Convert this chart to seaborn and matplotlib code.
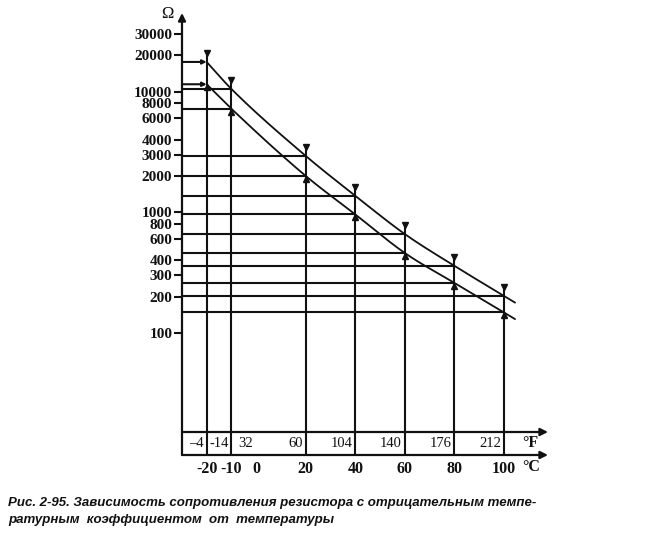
import numpy as np
import pandas as pd
import matplotlib
matplotlib.use("Agg")
import matplotlib.pyplot as plt
import matplotlib.transforms as mtransforms
from matplotlib.ticker import FixedLocator, NullLocator
import seaborn as sns

# Resistance of an NTC resistor vs temperature: upper and lower tolerance bounds
temps_c = [-20, -10, 20, 40, 60, 80, 100]
r_upper = [17600, 10500, 2930, 1370, 660, 360, 203]
r_lower = [11500, 7200, 2000, 960, 460, 260, 148]

# Axis labelling
ohm_ticks = [100, 200, 300, 400, 600, 800, 1000, 2000, 3000, 4000,
             6000, 8000, 10000, 20000, 30000]
c_ticks = [-20, -10, 0, 20, 40, 60, 80, 100]
f_labels = ["\u20134", "-14", "32", "60", "104", "140", "176", "212"]

caption_1 = "Рис. 2-95. Зависимость сопротивления резистора с отрицательным темпе-"
caption_2 = "ратурным  коэффициентом  от  температуры"

sns.set_theme(style="white")
plt.rcParams["font.family"] = ["Liberation Serif", "DejaVu Serif"]

INK = "#111111"
W, H = 670, 538
fig = plt.figure(figsize=(W / 100, H / 100), dpi=100)
fig.patch.set_facecolor("white")

# axes box in pixels: left, top, right, bottom
L, T, R, B = 182, 13, 548, 455
ax = fig.add_axes([L / W, 1 - B / H, (R - L) / W, (B - T) / H])
ax.set_facecolor("white")
ax.set_yscale("log")
xlim = (-29.96, 117.8)
ylim = (9.755, 44770.0)
ax.set_xlim(*xlim)
ax.set_ylim(*ylim)
px_per_dec = (B - T) / (np.log10(ylim[1]) - np.log10(ylim[0]))

for s in ax.spines.values():
    s.set_visible(False)


def monotone_curve(xs, ys, x_end, n=30):
    """Smooth Hermite curve through the points (log-resistance), with a short straight run past the last one."""
    xs = np.asarray(xs, float)
    ys = np.log10(np.asarray(ys, float))
    m = np.diff(ys) / np.diff(xs)
    d = np.empty_like(ys)
    d[0], d[-1] = m[0], m[-1]
    d[1:-1] = (m[:-1] + m[1:]) / 2
    out_x, out_y = [], []
    for i in range(len(xs) - 1):
        h = xs[i + 1] - xs[i]
        t = np.linspace(0, 1, n, endpoint=False)
        h00 = 2 * t**3 - 3 * t**2 + 1
        h10 = t**3 - 2 * t**2 + t
        h01 = -2 * t**3 + 3 * t**2
        h11 = t**3 - t**2
        out_x.extend(xs[i] + t * h)
        out_y.extend(h00 * ys[i] + h10 * h * d[i] + h01 * ys[i + 1] + h11 * h * d[i + 1])
    out_x.extend([xs[-1], x_end])
    out_y.extend([ys[-1], ys[-1] + d[-1] * (x_end - xs[-1])])
    return np.array(out_x), 10 ** np.array(out_y)


curves = []
for name, vals in (("upper", r_upper), ("lower", r_lower)):
    cx, cy = monotone_curve(temps_c, vals, 104.5)
    curves.append(pd.DataFrame({"t": cx, "r": cy, "bound": name}))
curve_df = pd.concat(curves, ignore_index=True)
sns.lineplot(data=curve_df, x="t", y="r", units="bound", estimator=None, sort=False,
             color=INK, lw=1.3, ax=ax, legend=False)
ax.set_xlabel("")
ax.set_ylabel("")

# vertical reading lines rising from the temperature axis to each upper point
lift = 10 ** (9 / px_per_dec)
up_marker = mtransforms.offset_copy(ax.transData, fig=fig, y=9, units="dots")
low_marker = mtransforms.offset_copy(ax.transData, fig=fig, y=-3, units="dots")
for t, hi, lo in zip(temps_c, r_upper, r_lower):
    ax.plot([t, t], [ylim[0], hi * lift], color=INK, lw=1.5, solid_capstyle="butt")
ax.plot(temps_c, r_upper, ls="none", marker="v", ms=5, color=INK, transform=up_marker)
ax.plot(temps_c, r_lower, ls="none", marker="^", ms=5, color=INK, transform=low_marker)

# horizontal reading lines from the resistance axis
for t, hi, lo in zip(temps_c, r_upper, r_lower):
    for v in (hi, lo):
        if t == temps_c[0]:
            ax.annotate("", xy=(t, v), xytext=(xlim[0], v),
                        arrowprops=dict(arrowstyle="-|>", lw=1.5, color=INK,
                                        mutation_scale=6, shrinkA=0, shrinkB=0))
        else:
            ax.plot([xlim[0], t], [v, v], color=INK, lw=1.5, solid_capstyle="butt")

# axes drawn as arrows
arrow = dict(arrowstyle="-|>", lw=1.6, color=INK, mutation_scale=11, shrinkA=0, shrinkB=0)
ax.annotate("", xy=(0, 1), xytext=(0, 0), xycoords="axes fraction", arrowprops=arrow)
ax.annotate("", xy=(1, 0), xytext=(0, 0), xycoords="axes fraction", arrowprops=arrow)
f_row = (B - 432) / (B - T)
ax.annotate("", xy=(1, f_row), xytext=(0, f_row), xycoords="axes fraction", arrowprops=arrow)

# resistance ticks
ax.yaxis.set_major_locator(FixedLocator(ohm_ticks))
ax.yaxis.set_minor_locator(NullLocator())
ax.set_yticklabels([str(v) for v in ohm_ticks])
ax.tick_params(axis="y", which="major", direction="out", length=6, width=1.5,
               color=INK, pad=1, left=True, labelsize=11, labelcolor=INK)
for lab in ax.get_yticklabels():
    lab.set_fontweight("bold")

# Celsius ticks (labels only)
ax.xaxis.set_major_locator(FixedLocator(c_ticks))
ax.xaxis.set_minor_locator(NullLocator())
ax.set_xticklabels([str(v) for v in c_ticks])
ax.tick_params(axis="x", which="major", length=0, pad=4, labelsize=11.5,
               bottom=True, labelcolor=INK)
for lab in ax.get_xticklabels():
    lab.set_fontweight("bold")

# Fahrenheit row labels, right-aligned next to each Celsius position
f_trans = mtransforms.offset_copy(ax.get_xaxis_transform(), fig=fig, x=-3, units="dots")
for t, lab in zip(c_ticks, f_labels):
    ax.text(t, f_row / 2, lab, transform=f_trans, ha="right", va="center",
            fontsize=10.5, color=INK)

fig.text(530 / W, 1 - 443 / H, "°F", ha="center", va="center", fontsize=11.5,
         fontweight="bold", color=INK)
fig.text(531 / W, 1 - 467 / H, "°C", ha="center", va="center", fontsize=11.5,
         fontweight="bold", color=INK)
fig.text(167 / W, 1 - 14 / H, "Ω", ha="center", va="center", fontsize=12, color=INK)

cap_font = dict(family=["Liberation Sans", "DejaVu Sans"],
                style="italic", weight="bold", fontsize=9.5, color=INK)
fig.text(8 / W, 1 - 506 / H, caption_1, ha="left", va="baseline", **cap_font)
fig.text(8 / W, 1 - 523 / H, caption_2, ha="left", va="baseline", **cap_font)

fig.savefig("out.png", dpi=100, facecolor="white")
